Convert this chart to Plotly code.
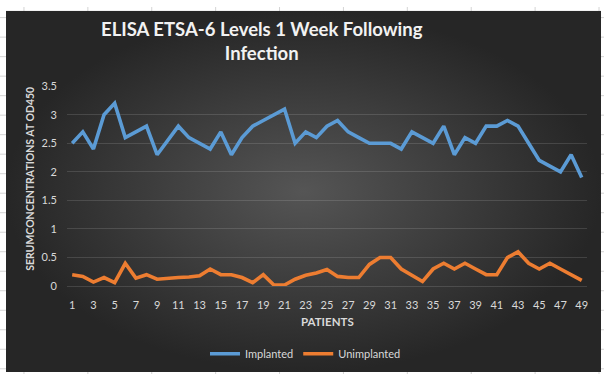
import plotly.graph_objects as go

patients = list(range(1, 50))
implanted = [2.5, 2.7, 2.4, 3.0, 3.2, 2.6, 2.7, 2.8, 2.3, 2.55, 2.8, 2.6, 2.5, 2.4, 2.7, 2.3,
             2.6, 2.8, 2.9, 3.0, 3.1, 2.5, 2.7, 2.6, 2.8, 2.9, 2.7, 2.6, 2.5, 2.5, 2.5, 2.4, 2.7,
             2.6, 2.5, 2.8, 2.3, 2.6, 2.5, 2.8, 2.8, 2.9, 2.8, 2.5, 2.2, 2.1, 2.0, 2.3, 1.9]
unimplanted = [0.2, 0.17, 0.07, 0.15, 0.06, 0.4, 0.14, 0.2, 0.12, 0.14, 0.15, 0.16, 0.18, 0.3, 0.2, 0.2,
               0.15, 0.06, 0.2, 0.02, 0.02, 0.12, 0.19, 0.23, 0.29, 0.17, 0.15, 0.15, 0.38, 0.5, 0.5, 0.3, 0.19,
               0.08, 0.3, 0.4, 0.3, 0.4, 0.3, 0.2, 0.2, 0.5, 0.6, 0.4, 0.3, 0.4, 0.3, 0.2, 0.1]
x_tick_vals = [p for p in patients if p % 2 == 1]
x_tick_text = [str(p) for p in x_tick_vals]

W, H = 605, 380
FONT = "Lato"
LABEL = "#d9d9d9"

fig = go.Figure()

# chart-area background (radial gradient), on its own full-size subplot
bg_x = [0, 1, 1, 0, 0]
bg_y = [0, 0, 1, 1, 0]
fig.add_trace(go.Scatter(
    x=bg_x, y=bg_y, mode="lines", fill="toself",
    fillgradient=dict(type="radial", colorscale=[[0, "#555555"], [1, "#262626"]]),
    line=dict(width=0, color="rgba(0,0,0,0)"),
    hoverinfo="skip", showlegend=False, xaxis="x", yaxis="y"))

fig.add_trace(go.Scatter(
    x=patients, y=implanted, mode="lines", name="Implanted",
    line=dict(color="#5b9bd5", width=3.6), xaxis="x2", yaxis="y2"))
fig.add_trace(go.Scatter(
    x=patients, y=unimplanted, mode="lines", name="Unimplanted",
    line=dict(color="#ed7d31", width=3.6), xaxis="x2", yaxis="y2"))

# Excel sheet gridlines outside the chart
shapes = []
for cx in [24, 88, 152, 216, 280, 344, 408, 472, 536, 600]:
    shapes.append(dict(type="line", xref="paper", yref="paper", layer="below",
                       x0=cx / W, x1=cx / W, y0=0, y1=1,
                       line=dict(color="#d4d4d4", width=1)))
for k in range(19):
    ry = 11 + 20.2 * k
    shapes.append(dict(type="line", xref="paper", yref="paper", layer="below",
                       x0=0, x1=1, y0=1 - ry / H, y1=1 - ry / H,
                       line=dict(color="#d4d4d4", width=1)))

annotations = [
    dict(text="<b>ELISA ETSA-6 Levels 1 Week Following<br>Infection</b>",
         xref="paper", yref="paper", x=262 / W, y=1 - 35 / H,
         xanchor="center", yanchor="middle", showarrow=False,
         font=dict(family=FONT, size=18.5, color="#f2f2f2")),
    dict(text="<b>SERUMCONCENTRATIONS AT OD450</b>", textangle=-90,
         xref="paper", yref="paper", x=30 / W, y=1 - 178 / H,
         xanchor="center", yanchor="middle", showarrow=False,
         font=dict(family=FONT, size=10.5, color=LABEL)),
    dict(text="<b>PATIENTS</b>",
         xref="paper", yref="paper", x=328 / W, y=1 - 326 / H,
         xanchor="center", yanchor="middle", showarrow=False,
         font=dict(family=FONT, size=11.5, color=LABEL)),
]

fig.update_layout(
    width=W, height=H,
    margin=dict(l=0, r=0, t=0, b=0),
    paper_bgcolor="white", plot_bgcolor="rgba(0,0,0,0)",
    font=dict(family=FONT, color=LABEL),
    showlegend=True,
    legend=dict(orientation="h", x=306 / W, xanchor="center",
                y=1 - 359 / H, yanchor="middle",
                font=dict(family=FONT, size=11, color=LABEL),
                bgcolor="rgba(0,0,0,0)", itemwidth=30),
    xaxis=dict(domain=[6 / W, 602 / W], range=[0, 1], visible=False, fixedrange=True),
    yaxis=dict(domain=[2 / H, 376 / H], range=[0, 1], visible=False, fixedrange=True),
    xaxis2=dict(domain=[67 / W, 588 / W], range=[0.5, 49.5], anchor="y2",
                showgrid=False, zeroline=False, showline=False, ticks="",
                tickvals=x_tick_vals, ticktext=x_tick_text,
                tickfont=dict(family=FONT, size=11, color=LABEL),
                ticklabelstandoff=11),
    yaxis2=dict(domain=[(H - 289) / H, (H - 82) / H], range=[0, 3.5], anchor="x2",
                dtick=0.5, tick0=0, showgrid=True,
                gridcolor="rgba(255,255,255,0.13)", gridwidth=1,
                zeroline=True, zerolinecolor="rgba(255,255,255,0.13)", zerolinewidth=1,
                showline=False, ticks="",
                tickfont=dict(family=FONT, size=11, color=LABEL),
                ticklabelstandoff=9),
    shapes=shapes,
    annotations=annotations,
)

fig.write_html("out.html", config={"displayModeBar": False},
               post_script="document.body.style.margin='0';document.body.style.overflow='hidden';")
